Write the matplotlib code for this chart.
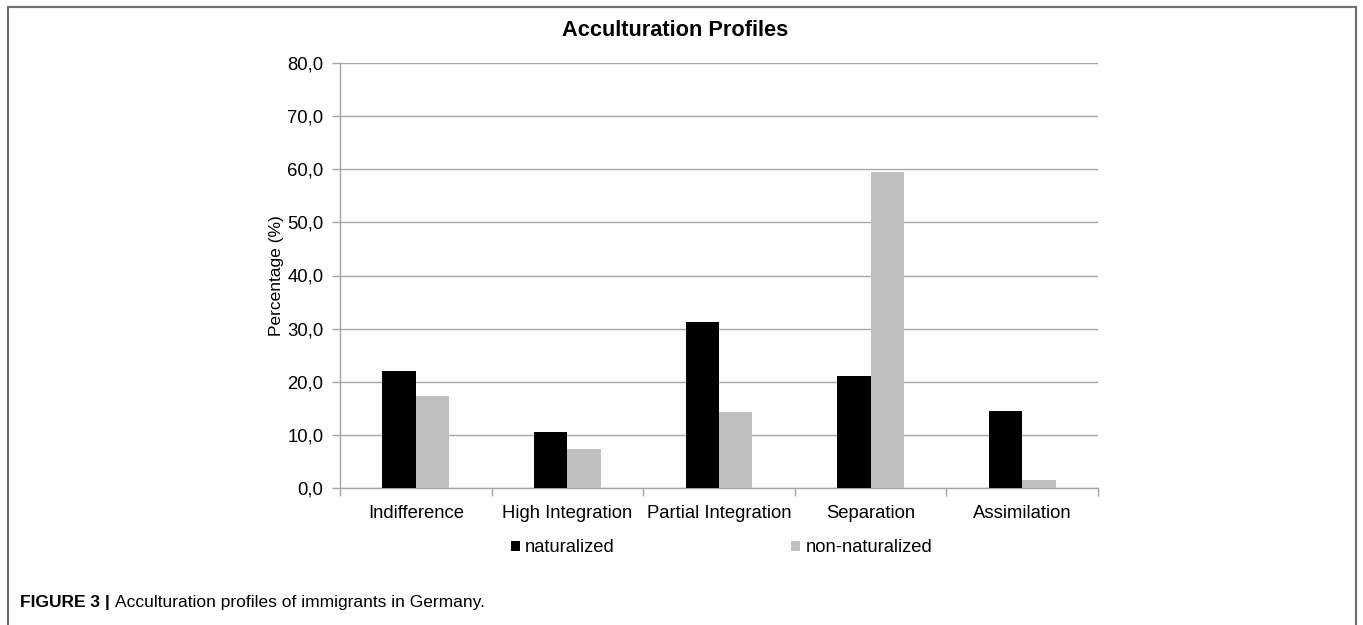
import matplotlib
matplotlib.use("Agg")
import matplotlib.pyplot as plt
import numpy as np
from matplotlib.lines import Line2D
from matplotlib.patches import Patch

categories = ["Indifference", "High Integration", "Partial Integration", "Separation", "Assimilation"]
naturalized = [22.0, 10.6, 31.3, 21.1, 14.5]
non_naturalized = [17.3, 7.4, 14.4, 59.4, 1.6]
series_names = ["naturalized", "non-naturalized"]
yticks = [0, 10, 20, 30, 40, 50, 60, 70, 80]
ytick_labels = ["0,0", "10,0", "20,0", "30,0", "40,0", "50,0", "60,0", "70,0", "80,0"]

plt.rcParams['font.family'] = ['Liberation Sans', 'DejaVu Sans']

W, H = 1363, 625
fig = plt.figure(figsize=(W / 100, H / 100), dpi=100)
ax = fig.add_axes([340 / W, 1 - 488 / H, (1098 - 340) / W, (488 - 63) / H])

x = np.arange(len(categories))
bw = 0.22
ax.bar(x - bw / 2, naturalized, bw, color="#000000", zorder=3, label=series_names[0])
ax.bar(x + bw / 2, non_naturalized, bw, color="#bfbfbf", zorder=3, label=series_names[1])

ax.set_xlim(-0.5, len(categories) - 0.5)
ax.set_ylim(0, 80)
ax.set_yticks(yticks)
ax.set_yticklabels(ytick_labels, fontsize=13.3)
ax.yaxis.grid(True, color="#a6a6a6", linewidth=1.0, zorder=0)
ax.set_axisbelow(True)

ax.set_xticks(x)
ax.set_xticklabels(categories, fontsize=13.3)
ax.tick_params(axis="x", length=0, pad=12)
ax.set_xticks(np.arange(-0.5, len(categories), 1.0), minor=True)
ax.tick_params(axis="x", which="minor", length=6, color="#a6a6a6", width=1)
ax.tick_params(axis="y", length=6, color="#a6a6a6", width=1, pad=6)

for s in ["top", "right"]:
    ax.spines[s].set_visible(False)
for s in ["left", "bottom"]:
    ax.spines[s].set_color("#a6a6a6")
    ax.spines[s].set_linewidth(1.0)

ax.set_ylabel("Percentage (%)", fontsize=12.5, labelpad=2)

fig.text(675 / W, 1 - 30 / H, "Acculturation Profiles", fontsize=15.7, fontweight="bold",
         ha="center", va="center")

handles = [Patch(facecolor="#000000"), Patch(facecolor="#bfbfbf")]
fig.legend(handles, series_names, loc="center", bbox_to_anchor=(721.5 / W, 1 - 548 / H),
           ncol=2, frameon=False, fontsize=13.2, handlelength=0.5, handleheight=0.5,
           handletextpad=0.3, columnspacing=9.6)

# caption
t1 = fig.text(20 / W, 1 - 602 / H, "FIGURE 3 |", fontsize=12.5, fontweight="bold",
              ha="left", va="center")
fig.canvas.draw()
bb = t1.get_window_extent()
fig.text((bb.x1 + 5) / W, 1 - 602 / H, "Acculturation profiles of immigrants in Germany.",
         fontsize=12.5, ha="left", va="center")

# frame
fc = "#6e6e6e"
fig.add_artist(Line2D([7.5 / W, 7.5 / W], [0, 1 - 6.5 / H], color=fc, lw=1.5, transform=fig.transFigure))
fig.add_artist(Line2D([1355.5 / W, 1355.5 / W], [0, 1 - 6.5 / H], color=fc, lw=1.5, transform=fig.transFigure))
fig.add_artist(Line2D([7.5 / W, 1355.5 / W], [1 - 6.5 / H, 1 - 6.5 / H], color=fc, lw=1.5, transform=fig.transFigure))

fig.savefig("out.png", dpi=100)
